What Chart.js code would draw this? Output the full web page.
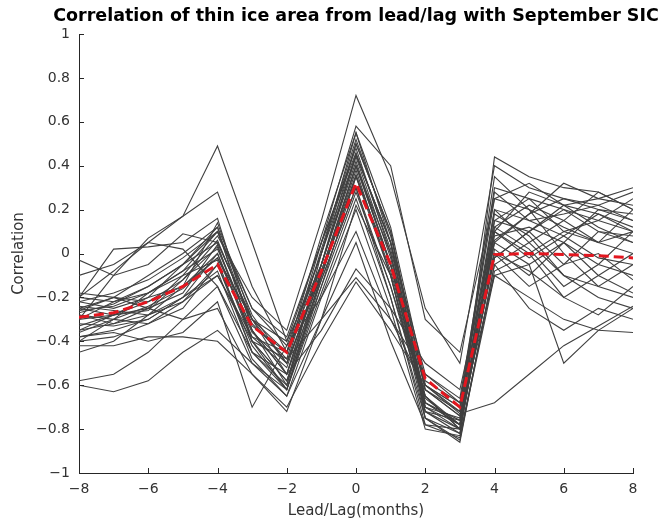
<!DOCTYPE html>
<html lang="en">
  <head>
    <meta charset="UTF-8" />
    <title>Thin ice lead/lag correlation</title>
    <script src="https://cdn.jsdelivr.net/npm/chart.js"></script>
    <style>
      body {
        margin: 0;
        padding: 0;
        background: #fff;
      }
      #wrap {
        width: 661px;
        height: 522px;
      }
    </style>
  </head>
  <body>
    <div id="wrap">
      <canvas id="corrChart" width="661" height="522"></canvas>
    </div>

    <script>
      // lead/lag in months
      const months = [-8, -7, -6, -5, -4, -3, -2, -1, 0, 1, 2, 3, 4, 5, 6, 7, 8];

      // ensemble members (gray lines)
      const members = [
        [-0.20, -0.08, 0.05, 0.17, 0.49, 0.05, -0.40, -0.05, 0.45, 0.05, -0.60, -0.72, 0.30, 0.25, 0.20, 0.15, 0.10],
        [-0.30, -0.10, 0.07, 0.17, 0.28, -0.15, -0.45, -0.10, 0.40, 0.00, -0.65, -0.78, 0.15, 0.10, 0.22, 0.18, 0.12],
        [-0.03, -0.10, -0.05, 0.09, 0.05, -0.30, -0.55, -0.05, 0.50, 0.10, -0.70, -0.80, 0.44, 0.35, 0.30, 0.28, 0.20],
        [-0.20, 0.02, 0.03, 0.05, 0.16, -0.35, -0.60, 0.00, 0.55, 0.05, -0.75, -0.82, 0.10, 0.28, 0.22, 0.25, 0.30],
        [-0.25, -0.20, -0.10, 0.00, 0.12, -0.40, -0.62, -0.10, 0.35, -0.10, -0.72, -0.76, 0.05, 0.18, 0.32, 0.25, 0.22],
        [-0.35, -0.28, -0.20, -0.05, 0.10, -0.28, -0.50, -0.08, 0.40, -0.05, -0.60, -0.70, 0.20, 0.05, -0.10, -0.20, -0.25],
        [-0.40, -0.30, -0.18, -0.08, 0.02, -0.35, -0.55, -0.12, 0.30, -0.15, -0.65, -0.80, 0.00, -0.15, -0.05, 0.10, 0.05],
        [-0.58, -0.55, -0.45, -0.30, -0.15, -0.45, -0.62, -0.18, 0.25, -0.20, -0.75, -0.85, -0.05, -0.25, -0.35, -0.25, -0.30],
        [-0.60, -0.63, -0.58, -0.45, -0.35, -0.50, -0.65, -0.30, 0.05, -0.40, -0.78, -0.84, -0.10, -0.20, -0.30, -0.35, -0.36],
        [-0.42, -0.42, -0.38, -0.38, -0.40, -0.55, -0.70, -0.40, -0.13, -0.35, -0.60, -0.73, -0.68, -0.55, -0.42, -0.33, -0.24],
        [-0.28, -0.30, -0.32, -0.25, -0.05, -0.45, -0.55, -0.35, -0.07, -0.25, -0.50, -0.62, 0.10, 0.00, -0.20, -0.10, 0.00],
        [-0.32, -0.33, -0.30, -0.20, 0.00, -0.40, -0.48, -0.30, -0.11, -0.30, -0.55, -0.68, 0.05, -0.05, -0.50, -0.35, -0.25],
        [-0.22, -0.25, -0.20, -0.15, -0.02, -0.30, -0.40, 0.05, 0.58, 0.40, -0.30, -0.45, 0.25, 0.20, 0.12, 0.05, 0.00],
        [-0.30, -0.28, -0.25, -0.10, 0.08, -0.20, -0.35, 0.15, 0.72, 0.35, -0.25, -0.50, 0.40, 0.30, 0.25, 0.20, 0.15],
        [-0.27, -0.23, -0.15, -0.05, 0.05, -0.30, -0.45, -0.05, 0.45, 0.05, -0.68, -0.78, 0.08, 0.12, 0.05, -0.05, -0.10],
        [-0.35, -0.32, -0.28, -0.15, 0.00, -0.38, -0.52, -0.05, 0.42, -0.05, -0.70, -0.75, -0.02, 0.10, 0.20, 0.10, 0.08],
        [-0.22, -0.18, -0.12, -0.02, 0.10, -0.25, -0.42, 0.00, 0.50, 0.10, -0.62, -0.72, 0.15, 0.25, 0.10, 0.15, 0.25],
        [-0.38, -0.35, -0.30, -0.20, -0.10, -0.40, -0.58, -0.15, 0.35, -0.05, -0.65, -0.80, 0.02, -0.10, 0.05, 0.20, 0.18],
        [-0.25, -0.28, -0.26, -0.12, 0.06, -0.32, -0.48, 0.05, 0.48, 0.00, -0.72, -0.82, 0.12, 0.02, -0.15, -0.05, 0.10],
        [-0.30, -0.22, -0.18, -0.10, -0.03, -0.45, -0.60, -0.10, 0.38, -0.10, -0.75, -0.86, -0.05, 0.05, 0.15, 0.28, 0.20],
        [-0.18, -0.20, -0.22, -0.15, 0.14, -0.30, -0.50, 0.02, 0.52, 0.08, -0.60, -0.70, 0.35, 0.20, 0.00, -0.15, -0.20],
        [-0.40, -0.38, -0.32, -0.22, -0.05, -0.42, -0.62, -0.12, 0.30, -0.20, -0.78, -0.80, 0.00, -0.08, -0.20, -0.28, -0.15],
        [-0.33, -0.28, -0.22, -0.12, 0.03, -0.35, -0.55, -0.05, 0.44, -0.02, -0.68, -0.76, 0.20, 0.15, 0.08, 0.18, 0.10],
        [-0.26, -0.24, -0.18, -0.08, 0.10, -0.33, -0.45, 0.08, 0.55, 0.12, -0.58, -0.68, 0.25, 0.32, 0.22, 0.12, 0.05],
        [-0.45, -0.40, -0.28, -0.20, -0.08, -0.48, -0.65, -0.20, 0.20, -0.25, -0.80, -0.83, -0.08, 0.00, 0.10, 0.05, 0.10],
        [-0.20, -0.22, -0.15, -0.05, 0.12, -0.25, -0.38, 0.05, 0.46, 0.02, -0.62, -0.74, 0.18, 0.08, -0.10, -0.15, -0.05],
        [-0.36, -0.30, -0.24, -0.16, -0.02, -0.36, -0.50, -0.10, 0.36, -0.08, -0.66, -0.78, 0.06, 0.18, 0.25, 0.22, 0.28],
        [-0.28, -0.32, -0.25, -0.18, 0.04, -0.40, -0.58, -0.08, 0.40, -0.05, -0.72, -0.80, 0.10, -0.02, 0.08, -0.02, -0.05],
        [-0.24, -0.26, -0.28, -0.22, -0.10, -0.38, -0.45, 0.00, 0.45, 0.05, -0.55, -0.66, 0.28, 0.15, 0.18, 0.22, 0.15],
        [-0.10, -0.05, 0.05, 0.02, -0.15, -0.50, -0.62, -0.15, 0.28, -0.15, -0.70, -0.78, -0.02, 0.10, -0.05, 0.00, -0.12],
        [-0.38, -0.36, -0.40, -0.36, -0.22, -0.70, -0.42, -0.20, 0.10, -0.30, -0.62, -0.74, -0.10, -0.05, 0.05, -0.10, -0.18],
        [-0.26, -0.20, -0.25, -0.30, -0.25, -0.55, -0.72, -0.30, 0.22, -0.10, -0.68, -0.78, 0.12, 0.22, 0.15, 0.05, 0.20],
      ];

      // ensemble mean (red dashed)
      const meanCorr = [-0.29, -0.27, -0.22, -0.15, -0.05, -0.33, -0.45, -0.08, 0.32, -0.05, -0.57, -0.70, -0.005, 0.0, -0.005, -0.01, -0.02];

      const xTicks = [-8, -6, -4, -2, 0, 2, 4, 6, 8];
      const yTicks = [-1, -0.8, -0.6, -0.4, -0.2, 0, 0.2, 0.4, 0.6, 0.8, 1];

      const chartTitle = "Correlation of thin ice area from lead/lag with September SIC";
      const axisColor = "#262626";

      function toPoints(vals) {
        return months.map((m, i) => ({ x: m, y: vals[i] }));
      }

      function fmt(v) {
        const r = Math.round(v * 10) / 10;
        return r < 0 ? "\u2212" + String(-r) : String(r);
      }

      const datasets = [
        {
          label: "mean",
          data: toPoints(meanCorr),
          borderColor: "#e3161f",
          borderWidth: 3,
          borderDash: [10, 5],
          pointRadius: 0,
        },
      ];
      members.forEach((m, i) => {
        datasets.push({
          label: "member " + (i + 1),
          data: toPoints(m),
          borderColor: "#404040",
          borderWidth: 1.1,
          pointRadius: 0,
        });
      });

      // MATLAB style inward ticks + title centred over the axes
      const matlabAxes = {
        id: "matlabAxes",
        afterDraw(chart) {
          const { ctx, chartArea, scales } = chart;
          ctx.save();
          ctx.strokeStyle = axisColor;
          ctx.lineWidth = 1;
          ctx.beginPath();
          xTicks.forEach((v) => {
            const px = Math.round(scales.x.getPixelForValue(v)) + 0.5;
            ctx.moveTo(px, chartArea.bottom);
            ctx.lineTo(px, chartArea.bottom - 5);
          });
          yTicks.forEach((v) => {
            const py = Math.round(scales.y.getPixelForValue(v)) + 0.5;
            ctx.moveTo(chartArea.left, py);
            ctx.lineTo(chartArea.left + 5, py);
          });
          ctx.stroke();

          ctx.fillStyle = "#000";
          ctx.font = "bold 17.5px 'DejaVu Sans'";
          ctx.textAlign = "center";
          ctx.textBaseline = "alphabetic";
          ctx.fillText(chartTitle, (chartArea.left + chartArea.right) / 2, 21);
          ctx.restore();
        },
      };

      new Chart(document.getElementById("corrChart"), {
        type: "line",
        data: { datasets },
        options: {
          responsive: false,
          animation: false,
          layout: { padding: { left: 0, right: 28, top: 34, bottom: 0 } },
          elements: { line: { tension: 0 } },
          plugins: {
            legend: { display: false },
            tooltip: { enabled: false },
            title: { display: false },
          },
          scales: {
            x: {
              type: "linear",
              min: -8,
              max: 8,
              afterBuildTicks: (s) => {
                s.ticks = xTicks.map((v) => ({ value: v }));
              },
              afterFit: (s) => {
                s.height = 49;
              },
              grid: { drawOnChartArea: false, drawTicks: false },
              border: { color: axisColor, width: 1 },
              ticks: {
                color: "#333",
                padding: 8,
                font: { family: "DejaVu Sans", size: 14 },
                callback: (v) => fmt(v),
              },
              title: {
                display: true,
                text: "Lead/Lag(months)",
                color: "#333",
                font: { family: "DejaVu Sans", size: 15 },
                padding: { top: 0, bottom: 2 },
              },
            },
            y: {
              type: "linear",
              min: -1,
              max: 1,
              afterBuildTicks: (s) => {
                s.ticks = yTicks.map((v) => ({ value: v }));
              },
              afterFit: (s) => {
                s.width = 79;
              },
              grid: { drawOnChartArea: false, drawTicks: false },
              border: { color: axisColor, width: 1 },
              ticks: {
                color: "#333",
                padding: 9,
                font: { family: "DejaVu Sans", size: 14 },
                callback: (v) => fmt(v),
              },
              title: {
                display: true,
                text: "Correlation",
                color: "#333",
                font: { family: "DejaVu Sans", size: 15 },
                padding: { top: 10, bottom: 0 },
              },
            },
          },
        },
        plugins: [matlabAxes],
      });
    </script>
  </body>
</html>
